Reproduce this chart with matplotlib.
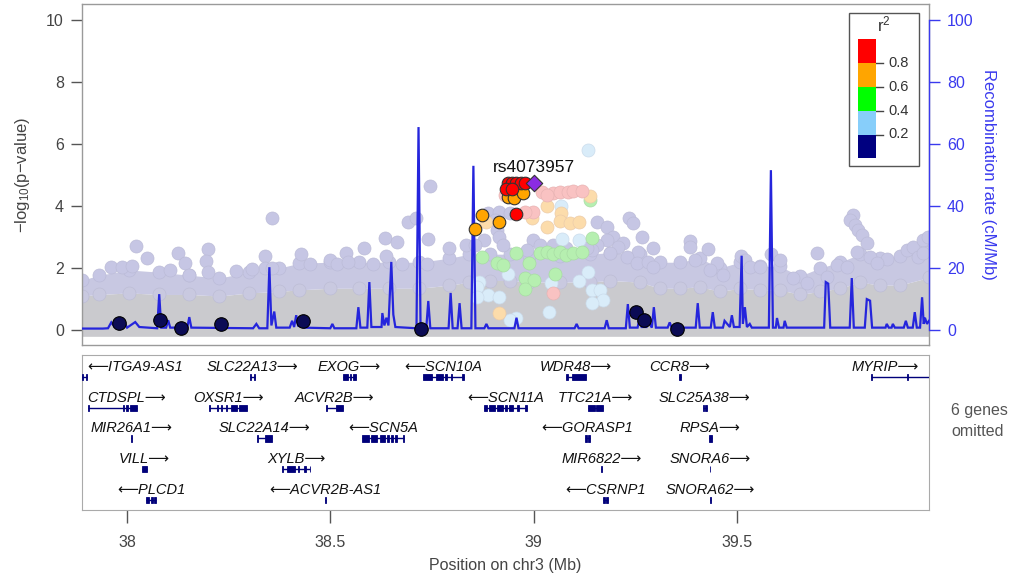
import matplotlib
matplotlib.use('Agg')
import matplotlib.pyplot as plt
from matplotlib.patches import Rectangle
from matplotlib.transforms import Affine2D

plt.rcParams['font.family'] = ['Liberation Sans', 'DejaVu Sans']
plt.rcParams['mathtext.fontset'] = 'custom'
plt.rcParams['mathtext.rm'] = 'Liberation Sans'
plt.rcParams['mathtext.default'] = 'regular'

# ---------------- data ----------------
# dense background cloud of SNPs (envelope)
mass_pos = [37.889, 37.931, 38.005, 38.079, 38.153, 38.227, 38.300, 38.374, 38.424, 38.498,
            38.571, 38.645, 38.719, 38.793, 38.842, 38.892, 38.941, 38.990, 39.064, 39.138,
            39.187, 39.261, 39.310, 39.360, 39.409, 39.458, 39.507, 39.557, 39.606, 39.655,
            39.704, 39.754, 39.803, 39.852, 39.901, 39.973]
mass_gray_top = [1.1, 1.15, 1.2, 1.15, 1.15, 1.1, 1.2, 1.25, 1.3, 1.35,
                 1.35, 1.35, 1.35, 1.45, 1.55, 1.6, 1.6, 1.55, 1.55, 1.55,
                 1.6, 1.55, 1.35, 1.35, 1.4, 1.25, 1.35, 1.3, 1.3, 1.15,
                 1.25, 1.35, 1.55, 1.45, 1.45, 1.7]
mass_lav_top = [1.61, 1.77, 1.94, 1.87, 1.77, 1.68, 1.87, 2.0, 2.16, 2.19,
                2.19, 2.19, 2.19, 2.32, 2.45, 2.45, 2.45, 2.4, 2.4, 2.45,
                2.5, 2.45, 2.19, 2.19, 2.32, 2.0, 2.19, 2.06, 2.06, 1.74,
                2.0, 2.19, 2.45, 2.32, 2.39, 2.9]
mass_bottom = -0.2

# r2 < 0.2 (faded) SNPs standing out of the cloud
lav_x = [38.357, 38.022, 38.049, 38.126, 38.143, 38.200, 38.195, 38.200, 38.340, 38.340,
         38.357, 37.961, 37.988, 38.012, 38.106, 38.153, 38.308, 38.268, 38.429, 38.746,
         38.690, 38.712, 38.635, 38.663, 38.741, 38.584, 38.638, 38.539, 38.451, 38.498,
         38.517, 38.544, 38.606, 38.677, 38.739, 38.793, 38.835, 38.887, 38.916, 38.904,
         38.941, 39.155, 39.180, 39.236, 39.244, 39.195, 39.219, 39.207, 39.180, 39.155,
         39.268, 39.293, 39.256, 39.187, 39.229, 39.254, 39.281, 39.293, 39.145, 39.131,
         38.909, 38.916, 38.924, 38.879, 38.855, 38.998, 39.015, 38.983, 39.047, 39.081,
         39.384, 39.384, 39.429, 39.397, 39.451, 39.433, 39.510, 39.520, 39.584, 39.606,
         39.697, 39.746, 39.786, 39.778, 39.791, 39.798, 39.808, 39.820, 39.796, 39.828,
         39.869, 39.845, 39.771, 39.919, 39.933, 39.958, 39.970, 39.946, 39.958, 39.466,
         39.532, 39.557, 39.638, 39.672, 39.722]
lav_y = [3.61, 2.71, 2.32, 2.48, 2.16, 2.61, 2.23, 1.87, 2.39, 2.0,
         2.0, 2.03, 2.03, 2.06, 1.94, 1.77, 1.97, 1.90, 2.45, 4.65,
         3.48, 3.61, 2.97, 2.84, 2.94, 2.65, 2.39, 2.48, 2.13, 2.26,
         2.13, 2.19, 2.13, 2.13, 2.13, 2.65, 2.74, 3.77, 3.81, 3.55,
         3.77, 3.48, 3.32, 3.61, 3.45, 3.0, 2.81, 2.68, 2.90, 2.74,
         3.0, 2.65, 2.52, 2.48, 2.35, 2.16, 2.19, 2.03, 2.58, 2.65,
         3.23, 3.0, 2.74, 2.90, 2.74, 2.90, 2.74, 2.58, 2.74, 2.65,
         2.87, 2.68, 2.61, 2.26, 2.16, 1.94, 2.39, 2.26, 2.45, 2.26,
         2.48, 2.10, 3.71, 3.55, 3.39, 3.23, 3.06, 2.81, 2.52, 2.35,
         2.29, 2.16, 2.03, 2.58, 2.68, 2.90, 3.0, 2.35, 2.48, 1.77,
         2.03, 2.03, 1.68, 1.52, 1.71]

# faded SNPs, by LD class
lblue_x = [39.133, 39.067, 39.071, 39.113, 38.938, 39.044, 39.135, 39.113, 38.867, 38.862,
           38.887, 38.916, 39.145, 39.163, 39.170, 39.143, 39.039, 38.958, 38.860, 38.941]
lblue_y = [5.81, 4.0, 2.94, 2.90, 1.81, 1.52, 1.87, 1.58, 1.55, 1.39,
           1.13, 1.06, 1.29, 1.29, 0.97, 0.87, 0.58, 0.39, 1.06, 0.32]
green_x = [39.138, 39.143, 38.872, 38.909, 38.926, 38.958, 38.988, 39.015, 39.032, 39.047,
           39.064, 39.081, 39.096, 39.118, 38.980, 39.002, 39.052, 38.980]
green_y = [4.19, 2.97, 2.35, 2.16, 2.10, 2.48, 2.16, 2.48, 2.52, 2.45,
           2.52, 2.42, 2.48, 2.52, 1.68, 1.61, 1.81, 1.32]
lorange_x = [39.138, 39.034, 39.067, 38.995, 39.032, 39.064, 39.089, 39.113, 38.916, 38.884]
lorange_y = [4.32, 4.0, 3.77, 3.61, 3.32, 3.52, 3.45, 3.48, 0.55, 3.48]
pink_x = [39.022, 39.047, 39.064, 39.084, 39.096, 39.118, 39.034, 38.998, 38.978, 39.047, 38.929]
pink_y = [4.45, 4.42, 4.45, 4.45, 4.48, 4.48, 4.35, 3.81, 3.81, 1.19, 4.35]

# highlighted SNPs
red_x = [38.936, 38.948, 38.958, 38.970, 38.978, 38.933, 38.946, 38.958]
red_y = [4.74, 4.74, 4.74, 4.74, 4.74, 4.55, 4.55, 3.74]
orange_x = [38.936, 38.953, 38.973, 38.874, 38.916, 38.857]
orange_y = [4.29, 4.26, 4.42, 3.71, 3.48, 3.26]
navy_x = [37.980, 38.081, 38.133, 38.232, 38.433, 38.722, 39.251, 39.271, 39.352]
navy_y = [0.23, 0.32, 0.06, 0.19, 0.29, 0.03, 0.58, 0.32, 0.03]
lead_snp = 'rs4073957'
lead_x = [39.002]
lead_y = [4.74]

# recombination rate (cM/Mb)
recomb_pos = [37.889, 37.940, 37.953, 37.961, 37.968, 37.978, 37.985, 37.993, 38.000, 38.020,
              38.030, 38.074, 38.079, 38.084, 38.096, 38.101, 38.106, 38.148, 38.153, 38.158,
              38.310, 38.318, 38.325, 38.345, 38.350, 38.355, 38.362, 38.367, 38.400, 38.406,
              38.411, 38.416, 38.421, 38.430, 38.436, 38.500, 38.505, 38.510, 38.564, 38.569,
              38.574, 38.591, 38.596, 38.601, 38.626, 38.628, 38.633, 38.638, 38.643, 38.650,
              38.655, 38.660, 38.712, 38.717, 38.722, 38.736, 38.741, 38.746, 38.791, 38.796,
              38.801, 38.813, 38.818, 38.823, 38.847, 38.852, 38.857, 38.879, 38.884, 38.889,
              38.953, 38.958, 38.963, 39.101, 39.106, 39.111, 39.175, 39.180, 39.185, 39.227,
              39.232, 39.237, 39.256, 39.261, 39.266, 39.278, 39.281, 39.291, 39.296, 39.301,
              39.330, 39.335, 39.340, 39.399, 39.404, 39.409, 39.436, 39.441, 39.446, 39.466,
              39.470, 39.483, 39.488, 39.493, 39.507, 39.512, 39.515, 39.520, 39.525, 39.532,
              39.537, 39.579, 39.584, 39.589, 39.596, 39.599, 39.604, 39.615, 39.618, 39.623,
              39.715, 39.719, 39.725, 39.730, 39.778, 39.783, 39.788, 39.815, 39.820, 39.828,
              39.833, 39.866, 39.869, 39.874, 39.881, 39.884, 39.889, 39.911, 39.916, 39.921,
              39.933, 39.938, 39.943, 39.951, 39.956, 39.960, 39.963, 39.968, 39.973]
recomb_rate = [0.5, 0.5, 0.6, 2.5, 1.2, 2.6, 0.9, 2.5, 0.8, 2.6,
               1.0, 0.6, 11.6, 0.8, 0.8, 3.2, 0.8, 0.8, 4.2, 0.8,
               0.6, 2.0, 0.6, 0.6, 20.3, 1.5, 6.0, 0.8, 0.8, 3.0,
               1.0, 4.8, 1.2, 2.5, 0.8, 0.6, 2.0, 0.6, 0.6, 7.4,
               0.8, 0.8, 15.5, 1.0, 1.0, 5.5, 1.5, 4.0, 1.5, 22.0,
               5.0, 1.0, 0.6, 65.5, 0.6, 0.6, 9.4, 0.6, 0.6, 12.0,
               0.6, 0.6, 8.7, 0.6, 0.6, 53.0, 0.6, 0.6, 2.0, 0.6,
               0.6, 4.0, 0.6, 0.6, 2.0, 0.6, 0.6, 3.2, 0.6, 0.6,
               8.4, 0.8, 0.8, 4.0, 1.0, 1.0, 3.0, 0.8, 7.4, 0.8,
               0.8, 2.5, 0.8, 0.8, 8.7, 0.8, 0.8, 5.8, 0.8, 0.8,
               3.0, 1.0, 4.8, 1.0, 1.0, 24.0, 2.0, 7.4, 1.0, 2.0,
               0.8, 0.8, 51.6, 0.8, 0.8, 3.9, 0.8, 0.8, 3.0, 0.8,
               0.8, 15.5, 15.0, 0.8, 0.8, 16.8, 0.8, 0.8, 10.0, 9.5,
               0.8, 0.8, 2.0, 0.8, 0.8, 2.0, 0.8, 0.8, 3.0, 0.8,
               0.8, 5.8, 0.8, 0.8, 10.6, 2.0, 4.0, 2.0, 3.0]

# genes
gene_names = ['ITGA9-AS1', 'SLC22A13', 'EXOG', 'SCN10A', 'WDR48', 'CCR8', 'MYRIP',
              'CTDSPL', 'OXSR1', 'ACVR2B', 'SCN11A', 'TTC21A', 'SLC25A38',
              'MIR26A1', 'SLC22A14', 'SCN5A', 'GORASP1', 'RPSA',
              'VILL', 'XYLB', 'MIR6822', 'SNORA6',
              'PLCD1', 'ACVR2B-AS1', 'CSRNP1', 'SNORA62']
gene_strand = ['-', '+', '+', '-', '+', '+', '+',
               '+', '+', '+', '-', '+', '+',
               '+', '+', '-', '-', '+',
               '+', '+', '+', '+',
               '-', '-', '-', '+']
gene_row = [0, 0, 0, 0, 0, 0, 0,
            1, 1, 1, 1, 1, 1,
            2, 2, 2, 2, 2,
            3, 3, 3, 3,
            4, 4, 4, 4]
gene_exons = [
    [(37.889, 37.891), (37.899, 37.901)],
    [(38.303, 38.306), (38.311, 38.315)],
    [(38.530, 38.544), (38.549, 38.552), (38.557, 38.562)],
    [(38.729, 38.751), (38.759, 38.776), (38.783, 38.788), (38.796, 38.800), (38.823, 38.828)],
    [(39.081, 39.084), (39.094, 39.128)],
    [(39.357, 39.362)],
    [(39.830, 39.832), (39.919, 39.921), (40.010, 40.020)],
    [(37.904, 37.906), (37.990, 37.993), (37.998, 38.002), (38.007, 38.025)],
    [(38.202, 38.204), (38.222, 38.224), (38.232, 38.234), (38.244, 38.246), (38.256, 38.271), (38.276, 38.296)],
    [(38.490, 38.492), (38.515, 38.530)],
    [(38.877, 38.885), (38.890, 38.905), (38.910, 38.925), (38.930, 38.935), (38.940, 38.950), (38.960, 38.963), (38.980, 38.985)],
    [(39.133, 39.150), (39.153, 39.170)],
    [(39.416, 39.419), (39.422, 39.426)],
    [(38.009, 38.011)],
    [(38.320, 38.322), (38.340, 38.357)],
    [(38.579, 38.596), (38.601, 38.616), (38.621, 38.635), (38.640, 38.645), (38.650, 38.655), (38.660, 38.665), (38.680, 38.682)],
    [(39.126, 39.131), (39.134, 39.138)],
    [(39.431, 39.438)],
    [(38.037, 38.049)],
    [(38.382, 38.384), (38.394, 38.414), (38.421, 38.424), (38.436, 38.439), (38.449, 38.451)],
    [(39.166, 39.168)],
    [(39.433, 39.435)],
    [(38.047, 38.055), (38.058, 38.063), (38.066, 38.071)],
    [(38.487, 38.490)],
    [(39.170, 39.175), (39.178, 39.182)],
    [(39.435, 39.437)],
]
omitted_note = '6 genes\nomitted'

x_ticks = [38, 38.5, 39, 39.5]
x_ticklabels = ['38', '38.5', '39', '39.5']
y_ticks = [0, 2, 4, 6, 8, 10]
r_ticks = [0, 20, 40, 60, 80, 100]
ld_colors = ['#FF0000', '#FFA500', '#00FF00', '#87CEFA', '#000080']
ld_breaks = ['0.8', '0.6', '0.4', '0.2']

# ---------------- figure ----------------
W, H = 1014, 576
fig = plt.figure(figsize=(W / 100, H / 100), dpi=100)
pix = Affine2D().scale(1.0 / W, -1.0 / H).translate(0, 1) + fig.transFigure


def frac(l, t, r, b):
    return [l / W, 1 - b / H, (r - l) / W, (b - t) / H]


XLIM = (37.889, 39.973)
ax = fig.add_axes(frac(82, 4, 929, 345))
ax2 = ax.twinx()
gax = fig.add_axes(frac(82, 355, 929, 510))

GRAY_AX = '#9a9a9a'
BLUE = '#3a3aee'

ax.set_xlim(XLIM)
ax.set_ylim(-0.48, 10.52)
ax2.set_ylim(-4.8, 105.2)

# background cloud
ax.fill_between(mass_pos, mass_bottom, mass_gray_top, color='#cacace', lw=0, zorder=1)
ax.fill_between(mass_pos, mass_gray_top, mass_lav_top, color='#c8c8e2', lw=0, zorder=1.2)
ms = 88
ax.scatter(mass_pos, mass_gray_top, s=ms, c='#c9c9e0', edgecolors='#bdbdd5', lw=0.5, zorder=1.3)
ax.scatter(mass_pos, mass_lav_top, s=ms, c='#c6c6e4', edgecolors='#bcbcd8', lw=0.5, zorder=1.5)
ax.scatter(lav_x, lav_y, s=ms, c='#c6c6e4', edgecolors='#bcbcd8', lw=0.5, zorder=2)
ax.scatter(lblue_x, lblue_y, s=ms, c='#d9ecf9', edgecolors='#cbdcec', lw=0.5, zorder=3)
ax.scatter(green_x, green_y, s=ms, c='#b6efb0', edgecolors='#a8dca4', lw=0.5, zorder=3)
ax.scatter(lorange_x, lorange_y, s=ms, c='#fcdcab', edgecolors='#ecccaa', lw=0.5, zorder=3)
ax.scatter(pink_x, pink_y, s=ms, c='#f9c2c2', edgecolors='#e8b4b4', lw=0.5, zorder=3)

# recombination rate line
ax2.plot(recomb_pos, recomb_rate, color='#2525dc', lw=1.6, zorder=4, solid_joinstyle='miter')

# highlighted points (drawn above the line, in -log10 p units)
ax2.scatter(navy_x, navy_y, s=95, c='#0b0b55', edgecolors='#000000', lw=0.8, zorder=6, transform=ax.transData)
ax2.scatter(orange_x, orange_y, s=82, c='#FFA500', edgecolors='#333333', lw=0.8, zorder=6, transform=ax.transData)
ax2.scatter(red_x, red_y, s=82, c='#FF0000', edgecolors='#333333', lw=0.8, zorder=7, transform=ax.transData)
ax2.scatter(lead_x, lead_y, s=70, marker='D', c='#8B2BE2', edgecolors='#333333', lw=0.8, zorder=8, transform=ax.transData)
ax2.text(lead_x[0], lead_y[0] + 0.52, lead_snp, ha='center', va='center', fontsize=12.5,
         color='#111111', zorder=9, transform=ax.transData)
ax2.set_ylim(-4.8, 105.2)
ax2.set_xlim(XLIM)

# axes styling
for s in ['top', 'bottom', 'left', 'right']:
    ax.spines[s].set_color(GRAY_AX)
    ax.spines[s].set_linewidth(1.0)
for s in ['top', 'bottom', 'left']:
    ax2.spines[s].set_visible(False)
ax2.spines['right'].set_color(BLUE)
ax2.spines['right'].set_bounds(0, 100)
ax2.spines['right'].set_linewidth(1.0)

ax.set_yticks(y_ticks)
ax.tick_params(axis='y', length=8, width=1, color='#555555', labelcolor='#444444', labelsize=11.5, pad=5)
ax.tick_params(axis='x', bottom=False, labelbottom=False)
ax.set_ylabel('\u2212log$_{10}$(p\u2212value)', fontsize=12, color='#444444', labelpad=10)

ax2.set_yticks(r_ticks)
ax2.tick_params(axis='y', length=8, width=1, color=BLUE, labelcolor=BLUE, labelsize=11.5, pad=5)
ax2.set_ylabel('Recombination rate (cM/Mb)', fontsize=12, color=BLUE, rotation=270, labelpad=16)

# LD legend
fig.patches.append(Rectangle((849, 13), 70, 153, transform=pix, fill=False,
                             edgecolor='#555555', lw=1.0, zorder=20))
bx0, by0, bw, bh = 858, 39.3, 18, 23.8
for i, c in enumerate(ld_colors):
    fig.patches.append(Rectangle((bx0, by0 + i * bh), bw, bh, transform=pix,
                                 facecolor=c, edgecolor='none', zorder=21))
for i, lab in enumerate(ld_breaks):
    yy = by0 + (i + 1) * bh
    fig.lines.append(plt.Line2D([bx0 + bw, bx0 + bw + 7], [yy, yy], transform=pix,
                                color='#444444', lw=1.0, zorder=21))
    fig.text(888, yy, lab, transform=pix, ha='left', va='center', fontsize=10.5, color='#333333')
fig.text(884, 24, 'r$^2$', transform=pix, ha='center', va='center', fontsize=12, color='#333333')

# ---------------- gene panel ----------------
gax.set_xlim(XLIM)
gax.set_ylim(5.05, 0)
gax.set_yticks([])
gax.set_xticks(x_ticks)
gax.set_xticklabels(x_ticklabels)
gax.tick_params(axis='x', length=9, width=1, color='#555555', labelcolor='#444444', labelsize=11.5, pad=9)
for s in ['top', 'bottom', 'left', 'right']:
    gax.spines[s].set_color('#aaaaaa')
gax.set_xlabel('Position on chr3 (Mb)', fontsize=11.5, color='#444444', labelpad=6)

GENE_C = '#00007a'
texts = []
for name, strand, row, exons in zip(gene_names, gene_strand, gene_row, gene_exons):
    s = min(e[0] for e in exons)
    e = max(e[1] for e in exons)
    yb = row + 0.72
    gax.plot([s, e], [yb, yb], color=GENE_C, lw=1.0, zorder=3, solid_capstyle='butt')
    for (es, ee) in exons:
        gax.add_patch(Rectangle((es, yb - 0.1), ee - es, 0.2, facecolor=GENE_C,
                                edgecolor=GENE_C, lw=0.6, zorder=4))
    label = ('\u27f5' + name) if strand == '-' else (name + '\u27f6')
    cx = (max(s, XLIM[0]) + min(e, XLIM[1])) / 2
    t = gax.text(cx, row + 0.39, label, ha='center', va='center', fontsize=10.5,
                 style='italic', color='#111111', zorder=5)
    texts.append(t)

fig.canvas.draw()
r = fig.canvas.get_renderer()
axbb = gax.get_window_extent(r)
for t in texts:
    bb = t.get_window_extent(r)
    dx = 0
    if bb.x0 < axbb.x0 + 5:
        dx = axbb.x0 + 5 - bb.x0
    elif bb.x1 > axbb.x1 - 10:
        dx = axbb.x1 - 10 - bb.x1
    if dx:
        x, y = t.get_position()
        xd = gax.transData.transform((x, y))[0] + dx
        t.set_x(gax.transData.inverted().transform((xd, 0))[0])

fig.text(951, 421, omitted_note, transform=pix, ha='left', va='center', fontsize=11.5,
         color='#555555', linespacing=1.55)

fig.savefig('out.png', dpi=100)
